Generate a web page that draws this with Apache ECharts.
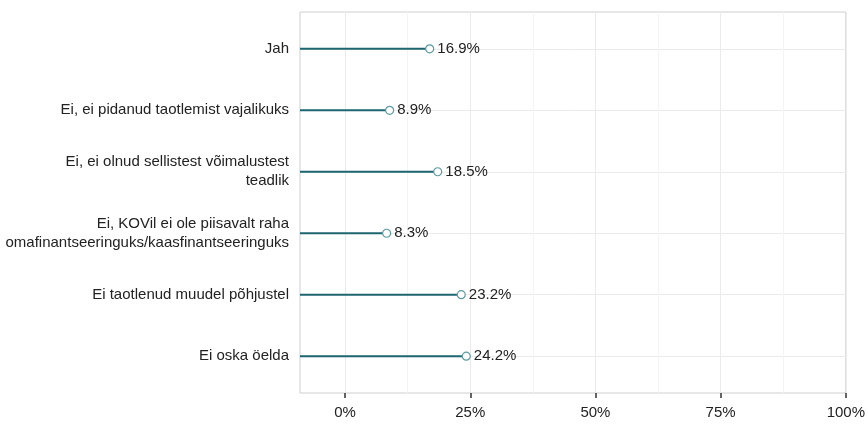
<!DOCTYPE html>
<html>
<head>
<meta charset="utf-8">
<script src="https://cdn.jsdelivr.net/npm/echarts@6/dist/echarts.min.js"></script>
<style>
	html, body { margin: 0; padding: 0; background: #fff; }
	#chart-container { width: 868px; height: 426px; }
</style>
</head>
<body>
<div id="chart-container"></div>
<script>
// answers, top to bottom
const categories = [
	'Jah',
	'Ei, ei pidanud taotlemist vajalikuks',
	'Ei, ei olnud sellistest võimalustest\nteadlik',
	'Ei, KOVil ei ole piisavalt raha\nomafinantseeringuks/kaasfinantseeringuks',
	'Ei taotlenud muudel põhjustel',
	'Ei oska öelda',
];
const shares = [16.9, 8.9, 18.5, 8.3, 23.2, 24.2];
const xTicks = [0, 25, 50, 75, 100];
const xMinorTicks = [12.5, 37.5, 62.5, 87.5];

const xMin = -9;
const xMax = 100;

let dom = document.getElementById('chart-container');
let myChart = echarts.init(dom, null, {
	renderer: 'canvas',
	useDirtyRect: false,
});

const points = shares.map(function (v, i) {
	return [v, i];
});
const catIndex = categories.map(function (c, i) {
	return i;
});

let option = {
	animation: false,
	grid: {
		left: 300,
		right: 21,
		top: 12,
		bottom: 33,
		show: true,
		borderColor: '#cfcfcf',
		borderWidth: 1,
	},
	xAxis: [
		{
			type: 'value',
			min: xMin,
			max: xMax,
			axisLine: { show: false, onZero: false },
			axisTick: {
				show: true,
				customValues: xTicks,
				length: 5,
				lineStyle: { color: '#333', width: 1.5 },
			},
			axisLabel: {
				customValues: xTicks,
				formatter: '{value}%',
				color: '#222',
				fontSize: 15,
				fontFamily: 'Liberation Sans, Arial, sans-serif',
				margin: 12,
			},
			splitLine: { show: true, lineStyle: { color: '#ebebeb', width: 1 } },
		},
		{
			type: 'value',
			min: xMin,
			max: xMax,
			position: 'bottom',
			axisLine: { show: false, onZero: false },
			axisTick: { show: false, customValues: xMinorTicks },
			axisLabel: { show: false, customValues: xMinorTicks },
			splitLine: { show: true, lineStyle: { color: '#f4f4f4', width: 1 } },
		},
	],
	yAxis: {
		type: 'value',
		inverse: true,
		min: -0.6,
		max: categories.length - 0.4,
		axisLine: { show: false, onZero: false },
		axisTick: { show: false, customValues: catIndex },
		axisLabel: {
			customValues: catIndex,
			formatter: function (v) {
				return categories[Math.round(v)];
			},
			color: '#222',
			fontSize: 15,
			lineHeight: 19,
			fontFamily: 'Liberation Sans, Arial, sans-serif',
			align: 'right',
			margin: 11,
		},
		splitLine: { show: true, lineStyle: { color: '#ebebeb', width: 1 } },
	},
	series: [
		{
			name: 'segment',
			type: 'custom',
			xAxisIndex: 0,
			data: points,
			renderItem: function (params, api) {
				const start = api.coord([xMin, api.value(1)]);
				const end = api.coord([api.value(0), api.value(1)]);
				return {
					type: 'line',
					shape: { x1: start[0], y1: start[1], x2: end[0], y2: end[1] },
					style: { stroke: '#1d6670', lineWidth: 2 },
				};
			},
			z: 3,
		},
		{
			name: 'share',
			type: 'scatter',
			xAxisIndex: 0,
			data: points,
			symbol: 'circle',
			symbolSize: 8,
			itemStyle: {
				color: '#fff',
				borderColor: '#5c9ba2',
				borderWidth: 1.2,
				opacity: 1,
			},
			label: {
				show: true,
				position: 'right',
				distance: 3,
				color: '#222',
				fontSize: 15,
				fontFamily: 'Liberation Sans, Arial, sans-serif',
				formatter: function (p) {
					return p.value[0].toFixed(1) + '%';
				},
			},
			z: 4,
		},
	],
};

myChart.setOption(option);
window.addEventListener('resize', myChart.resize);
</script>
</body>
</html>
